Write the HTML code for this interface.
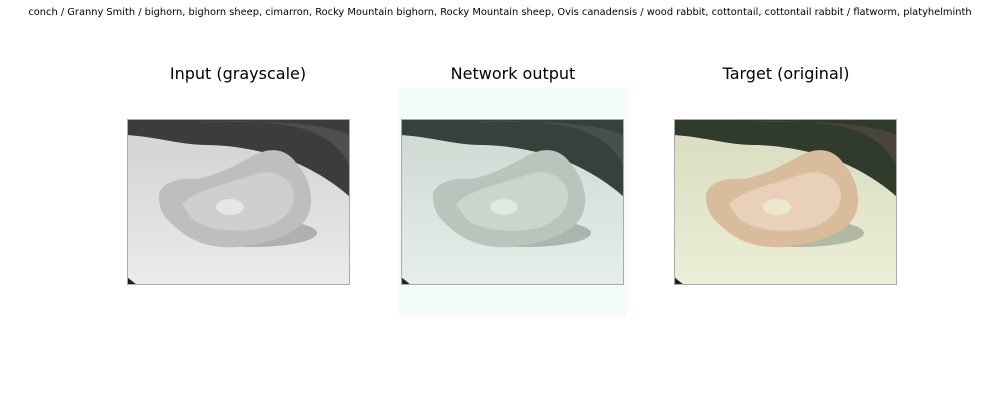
<!DOCTYPE html>
<html><head><meta charset="utf-8"><style>
body{margin:0;background:#fff;width:1000px;height:400px;position:relative;overflow:hidden;font-family:"DejaVu Sans","Liberation Sans",sans-serif}
.t{position:absolute;white-space:nowrap}
.sup{left:0;width:1000px;text-align:center;top:7px;font-size:9.85px;color:#000;font-family:"DejaVu Sans",sans-serif}
.st{font-size:16px;color:#000;top:64px;text-align:center;width:300px}
svg{position:absolute}
</style></head><body>
<div class="t sup">conch / Granny Smith / bighorn, bighorn sheep, cimarron, Rocky Mountain bighorn, Rocky Mountain sheep, Ovis canadensis / wood rabbit, cottontail, cottontail rabbit / flatworm, platyhelminth</div>
<div class="t st" style="left:88px">Input (grayscale)</div>
<div class="t st" style="left:363px">Network output</div>
<div class="t st" style="left:636px">Target (original)</div>
<div style="position:absolute;left:399px;top:88px;width:228px;height:228px;background:#f2fdf7"></div>
<div id="imgs"></div>
<script>
const panels=[
 {name:'input-image',x:127,bg:'#d6d6d6',rock:'#3c3c3c',rock2:'#5a5a5a',sh:'#9a9a9a',coral:'#bebebe',coral2:'#d6d6d6',grav:'#ebebeb'},
 {name:'output-image',x:401,bg:'#d2dcd5',rock:'#35413b',rock2:'#505c55',sh:'#95a098',coral:'#b9c4bd',coral2:'#d3ddd6',grav:'#e6eee9'},
 {name:'target-image',x:674,bg:'#dcdfc4',rock:'#303b2c',rock2:'#5c4c46',sh:'#9aa592',coral:'#d9bc9c',coral2:'#eedac4',grav:'#eceed6'}
];
const c=document.getElementById('imgs');
panels.forEach((p,i)=>{
 const s=document.createElementNS('http://www.w3.org/2000/svg','svg');
 
 
 s.setAttribute('width',223);s.setAttribute('height',166);
 s.style.left=p.x+'px';s.style.top='119px';
 s.innerHTML=`<defs><linearGradient id="g${i}" x1="0" y1="0" x2="0" y2="1"><stop offset="0.2" stop-color="${p.bg}"/><stop offset="1" stop-color="${p.grav}"/></linearGradient></defs>
 <rect width="223" height="166" fill="url(#g${i})"/>
 <path d="M0 0H223V78C205 62 185 50 160 40C130 30 100 26 80 26C55 26 30 18 0 16Z" fill="${p.rock}"/>
 <path d="M70 4C100 0 140 2 170 8C200 16 215 30 223 48V16C200 6 150 0 70 4Z" fill="${p.rock2}" opacity="0.6"/>
 <ellipse cx="125" cy="114" rx="65" ry="14" fill="${p.sh}" opacity="0.7"/>
 <path d="M32 80C30 65 50 58 70 60C95 55 110 45 130 35C145 28 160 30 170 45C185 62 190 90 175 105C160 118 140 125 110 128C80 130 60 120 45 105C35 96 33 90 32 80Z" fill="${p.coral}"/>
 <path d="M55 85C70 70 100 65 120 58C140 50 155 52 165 68C172 85 160 100 140 108C115 115 80 112 65 100Z" fill="${p.coral2}" opacity="0.7"/>
 <ellipse cx="103" cy="88" rx="14" ry="8" fill="${p.grav}" opacity="0.8"/>
 <path d="M0 158L10 166H0Z" fill="#222"/>
 <rect x="0.5" y="0.5" width="222" height="165" fill="none" stroke="#aaa" stroke-width="1"/>`;
 c.appendChild(s);
});
</script>
</body></html>
